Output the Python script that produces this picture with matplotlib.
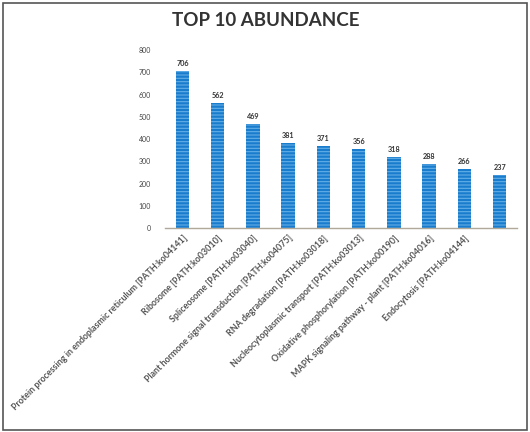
import matplotlib.pyplot as plt
from matplotlib.patches import Rectangle

pathways = [
    'Protein processing in endoplasmic reticulum [PATH:ko04141]',
    'Ribosome [PATH:ko03010]',
    'Spliceosome [PATH:ko03040]',
    'Plant hormone signal transduction [PATH:ko04075]',
    'RNA degradation [PATH:ko03018]',
    'Nucleocytoplasmic transport [PATH:ko03013]',
    'Oxidative phosphorylation [PATH:ko00190]',
    'MAPK signaling pathway - plant [PATH:ko04016]',
    'Endocytosis [PATH:ko04144]',
    '',
]
counts = [706, 562, 469, 381, 371, 356, 318, 288, 266, 237]
yticks = list(range(0, 801, 100))

plt.rcParams['font.family'] = ['Lato', 'DejaVu Sans']
plt.rcParams['hatch.linewidth'] = 0.8

fig = plt.figure(figsize=(5.3, 4.32), dpi=100)
ax = fig.add_axes([0.311, 0.472, 0.665, 0.412])

x = list(range(len(counts)))
bars = ax.bar(x, counts, width=0.38, color='#1a7ccc', edgecolor='#62aee8',
              linewidth=0, hatch='-----')

for xi, v in zip(x, counts):
    ax.text(xi, v + 18, str(v), ha='center', va='bottom', fontsize=5.2,
            fontweight='bold', color='#333333')

ax.set_xlim(-0.5, len(counts) - 0.5)
ax.set_ylim(0, 800)
ax.set_yticks(yticks)
ax.set_yticklabels([str(t) for t in yticks], fontsize=5, color='#444444')
ax.tick_params(axis='y', length=0, pad=10)
ax.tick_params(axis='x', length=0, pad=4)
ax.set_xticks(x)
ax.set_xticklabels(pathways, rotation=45, ha='right', va='top',
                   rotation_mode='anchor', fontsize=6.4, fontweight='bold',
                   color='#555555')

for side in ['top', 'right', 'left']:
    ax.spines[side].set_visible(False)
ax.spines['bottom'].set_color('#b0a898')
ax.spines['bottom'].set_linewidth(1.0)

fig.text(0.502, 0.952, 'TOP 10 ABUNDANCE', ha='center', va='center',
         fontsize=13.5, fontweight='bold', color='#333333')

# thin frame round the whole figure
fig.patches.append(Rectangle((0.006, 0.004), 0.988, 0.99, transform=fig.transFigure,
                             fill=False, edgecolor='#555555', linewidth=1.2))

fig.savefig('out.png', dpi=100)
